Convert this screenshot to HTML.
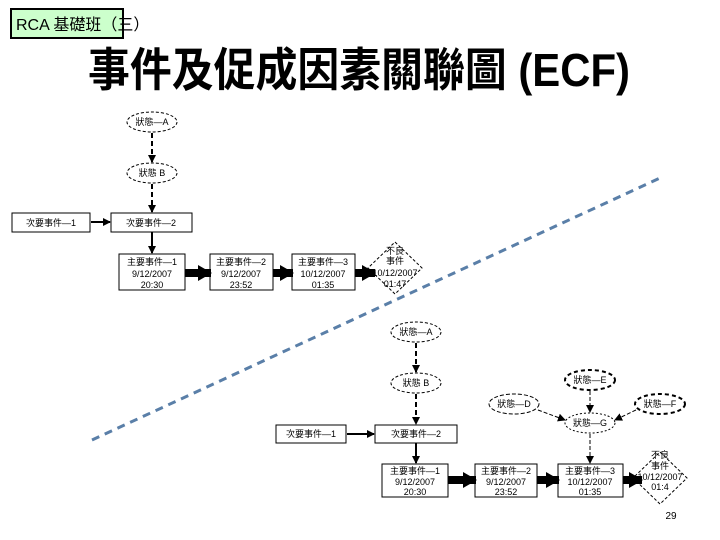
<!DOCTYPE html>
<html><head><meta charset="utf-8"><style>
html,body{margin:0;padding:0;background:#fff;}
svg{display:block;}
text{font-family:"Liberation Sans","Noto Sans CJK TC",sans-serif;}
</style></head><body>
<svg width="720" height="540" viewBox="0 0 720 540" xmlns="http://www.w3.org/2000/svg">
<defs>
<marker id="ah" markerWidth="8" markerHeight="8" refX="7" refY="4" orient="auto" markerUnits="userSpaceOnUse"><path d="M0,0 L8,4 L0,8 z" fill="#000"/></marker>
<marker id="ahb" markerWidth="14" markerHeight="16" refX="13" refY="8" orient="auto" markerUnits="userSpaceOnUse"><path d="M0,0 L14,8 L0,16 z" fill="#000"/></marker>
</defs>
<rect x="11" y="9" width="112" height="29" fill="#ccffcc" stroke="#000" stroke-width="2"/>
<text x="16" y="30" font-size="16">RCA 基礎班（三）</text>
<text x="88" y="86" font-size="46" font-weight="bold" textLength="542" lengthAdjust="spacingAndGlyphs">事件及促成因素關聯圖 (ECF)</text>

<g stroke="#000" fill="none" font-size="10">
<!-- top -->
<ellipse cx="152" cy="122" rx="25" ry="10" stroke-dasharray="3,2"/>
<ellipse cx="152" cy="173" rx="25" ry="10" stroke-dasharray="3,2"/>
<line x1="152" y1="133" x2="152" y2="162" stroke-width="2" stroke-dasharray="5,3" marker-end="url(#ah)"/>
<line x1="152" y1="184" x2="152" y2="212" stroke-width="2" stroke-dasharray="5,3" marker-end="url(#ah)"/>
<rect x="12" y="213" width="78" height="19"/>
<rect x="111" y="213" width="81" height="19"/>
<line x1="91" y1="222" x2="110" y2="222" stroke-width="2" marker-end="url(#ah)"/>
<line x1="152" y1="232" x2="152" y2="253" stroke-width="2" marker-end="url(#ah)"/>
<rect x="119" y="254" width="66" height="36"/>
<rect x="210" y="254" width="63" height="36"/>
<rect x="292" y="254" width="63" height="36"/>
<polygon points="395,242 422,268 395,294 368,268" stroke-dasharray="3,2"/>
<line x1="185" y1="273" x2="211" y2="273" stroke-width="8" marker-end="url(#ahb)"/>
<line x1="273" y1="273" x2="293" y2="273" stroke-width="8" marker-end="url(#ahb)"/>
<line x1="355" y1="273" x2="375" y2="273" stroke-width="8" marker-end="url(#ahb)"/>
<!-- bottom -->
<ellipse cx="416" cy="332" rx="25" ry="10" stroke-dasharray="3,2"/>
<ellipse cx="416" cy="383" rx="25" ry="10" stroke-dasharray="3,2"/>
<line x1="416" y1="343" x2="416" y2="372" stroke-width="2" stroke-dasharray="5,3" marker-end="url(#ah)"/>
<line x1="416" y1="394" x2="416" y2="424" stroke-width="2" stroke-dasharray="5,3" marker-end="url(#ah)"/>
<rect x="276" y="425" width="70" height="18"/>
<rect x="375" y="425" width="82" height="18"/>
<line x1="347" y1="434" x2="374" y2="434" stroke-width="2" marker-end="url(#ah)"/>
<line x1="416" y1="443" x2="416" y2="463" stroke-width="2" marker-end="url(#ah)"/>
<rect x="382" y="464" width="66" height="33"/>
<rect x="475" y="464" width="62" height="33"/>
<rect x="558" y="464" width="65" height="33"/>
<polygon points="660,452 687,478 660,504 633,478" stroke-dasharray="3,2"/>
<line x1="448" y1="480" x2="476" y2="480" stroke-width="8" marker-end="url(#ahb)"/>
<line x1="537" y1="480" x2="559" y2="480" stroke-width="8" marker-end="url(#ahb)"/>
<line x1="623" y1="480" x2="642" y2="480" stroke-width="8" marker-end="url(#ahb)"/>
<ellipse cx="590" cy="380" rx="25" ry="10" stroke-width="2" stroke-dasharray="4,3"/>
<ellipse cx="514" cy="404" rx="25" ry="10" stroke-dasharray="4,2"/>
<ellipse cx="660" cy="404" rx="25" ry="10" stroke-width="2" stroke-dasharray="4,3"/>
<ellipse cx="590" cy="423" rx="25" ry="10" stroke-dasharray="2,2"/>
<line x1="590" y1="391" x2="590" y2="412" stroke-dasharray="4,2" marker-end="url(#ah)"/>
<line x1="538" y1="410" x2="565" y2="420" stroke-dasharray="4,2" marker-end="url(#ah)"/>
<line x1="636" y1="410" x2="615" y2="420" stroke-dasharray="4,2" marker-end="url(#ah)"/>
<line x1="590" y1="434" x2="590" y2="463" stroke-dasharray="4,2" marker-end="url(#ah)"/>
</g>

<line x1="92" y1="440" x2="660" y2="178" stroke="#5a7fa8" stroke-width="3" stroke-dasharray="8,6"/>

<g font-size="9" text-anchor="middle" fill="#000">
<text x="152" y="125">狀態—A</text>
<text x="152" y="176">狀態 B</text>
<text x="51" y="226">次要事件—1</text>
<text x="151" y="226">次要事件—2</text>
<text x="152" y="265">主要事件—1</text>
<text x="152" y="277">9/12/2007</text>
<text x="152" y="288">20:30</text>
<text x="241" y="265">主要事件—2</text>
<text x="241" y="277">9/12/2007</text>
<text x="241" y="288">23:52</text>
<text x="323" y="265">主要事件—3</text>
<text x="323" y="277">10/12/2007</text>
<text x="323" y="288">01:35</text>
<text x="395" y="254">不良</text>
<text x="395" y="264">事件</text>
<text x="395" y="276">10/12/2007</text>
<text x="395" y="287">01:47</text>

<text x="416" y="335">狀態—A</text>
<text x="416" y="386">狀態 B</text>
<text x="311" y="437">次要事件—1</text>
<text x="416" y="437">次要事件—2</text>
<text x="415" y="474">主要事件—1</text>
<text x="415" y="485">9/12/2007</text>
<text x="415" y="495">20:30</text>
<text x="506" y="474">主要事件—2</text>
<text x="506" y="485">9/12/2007</text>
<text x="506" y="495">23:52</text>
<text x="590" y="474">主要事件—3</text>
<text x="590" y="485">10/12/2007</text>
<text x="590" y="495">01:35</text>
<text x="660" y="458">不良</text>
<text x="660" y="469">事件</text>
<text x="660" y="480">10/12/2007</text>
<text x="660" y="490">01:4</text>
<text x="590" y="383">狀態—E</text>
<text x="514" y="407">狀態—D</text>
<text x="660" y="407">狀態—F</text>
<text x="590" y="426">狀態—G</text>
<text x="671" y="519" font-size="10">29</text>
</g>
</svg>
</body></html>
